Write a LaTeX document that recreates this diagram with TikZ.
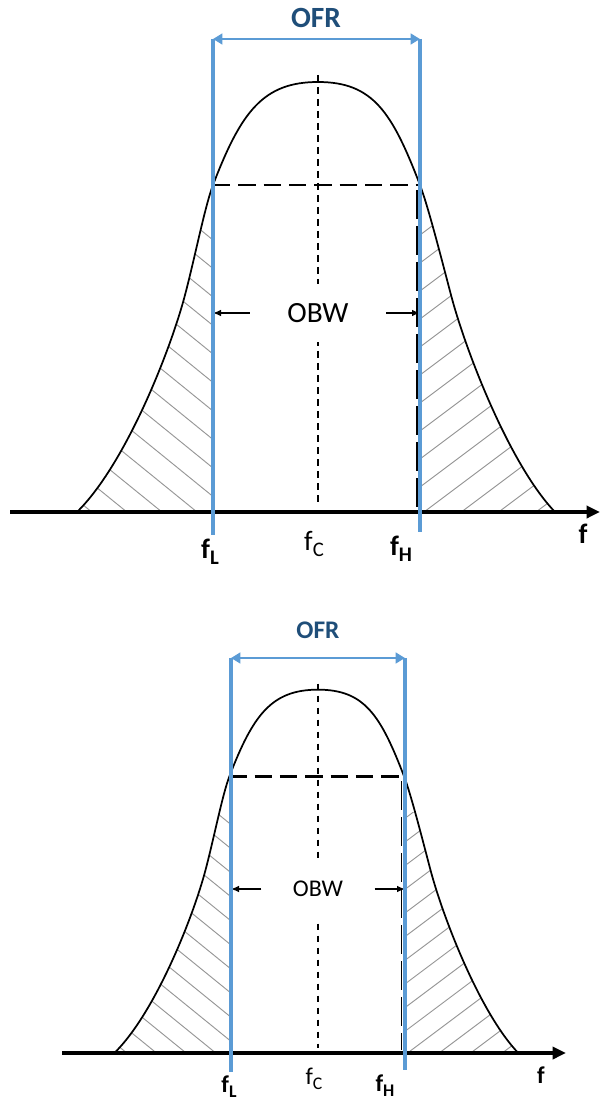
\documentclass[tikz,border=0pt]{standalone}
\usepackage{fontspec}
\setmainfont{Carlito}
\usepackage{graphicx}
\usetikzlibrary{arrows.meta,positioning}
\definecolor{ofrBlue}{RGB}{91,155,213}
\definecolor{ofrText}{RGB}{31,78,121}
\definecolor{hatchGray}{RGB}{150,150,150}

\newcommand{\lowidx}[1]{\raisebox{-0.45ex}{\scalebox{0.74}{#1}}}

% spectrum shape, relative to the centre of the axis
\newcommand{\leftwing}{(-241,0) .. controls (-193,-47) and (-148,-160) .. (-133,-217) .. controls (-123,-255) and (-113,-306) .. (-105,-327)}
\newcommand{\bellcap}{.. controls (-77,-400) and (-55,-430) .. (0,-430) .. controls (55,-430) and (74,-400) .. (102,-327)}
\newcommand{\rightwing}{.. controls (110,-306) and (123,-255) .. (133,-217) .. controls (148,-160) and (192,-47) .. (237,0)}

\newcommand{\drawspectrum}{%
  \begin{scope}
    \clip (-300,-285) rectangle (300,0);
    \begin{scope}
      \clip \leftwing -- (-105,0) -- cycle;
      \foreach \k in {0,...,14}
        \draw[hatch] (-105,{-272+28.5*\k}) -- ++(-320,-260);
    \end{scope}
    \begin{scope}
      \clip (102,-327) \rightwing -- (102,0) -- cycle;
      \foreach \k in {0,...,14}
        \draw[hatch] (102,{-277+28*\k}) -- ++(320,-240);
    \end{scope}
  \end{scope}
  \draw[centreline] (0,-437) -- (0,-6);
  \draw[shoulder] (-105,-327) -- (102,-327);
  \draw[edgeline] (99,-322) -- (99,-4);
  \draw[bell] \leftwing \bellcap \rightwing;
}

\begin{document}
\begin{tikzpicture}[x=0.75pt,y=-0.75pt,
  bell/.style={line width=1.3pt},
  hatch/.style={hatchGray,line width=0.7pt},
  shoulder/.style={line width=2pt,dash pattern=on 13pt off 6pt},
  centreline/.style={line width=0.9pt,dash pattern=on 5pt off 4pt},
  edgeline/.style={line width=1pt,dash pattern=on 22pt off 5pt},
  ofrline/.style={ofrBlue,line width=2.8pt},
  ofrarrow/.style={ofrBlue,line width=2pt,{Triangle[length=7pt,width=8pt]}-{Triangle[length=7pt,width=8pt]}},
  axisline/.style={line width=3.5pt,-{Triangle[length=10pt,width=9pt]}},
  obwarrow/.style={line width=0.9pt,-{Latex[length=6pt,width=5pt]}},
  ofrtext/.style={text=ofrText,font=\bfseries\fontsize{#1}{#1}\selectfont},
  obwtext/.style={font=\fontsize{#1}{#1}\selectfont,fill=white,minimum height=44pt},
  flabel/.style={font=\fontsize{#1}{#1}\selectfont,inner sep=0pt},
]
\useasboundingbox (0,0) rectangle (602,1119);

% upper spectrum
\begin{scope}[shift={(318,512)}]
  \drawspectrum
\end{scope}
\coordinate (topL) at (213,39);
\coordinate (topR) at (420,39);
\draw[axisline] (10,512) -- (600,512);
\node[ofrtext=22] (ofrTop) at (316,18) {OFR};
\node[obwtext=22,inner xsep=28pt] (obwTop) at (318,313) {OBW};
\draw[obwarrow] (obwTop.west) -- (obwTop.west -| topL);
\draw[obwarrow] (obwTop.east) -- (obwTop.east -| topR);
\draw[ofrline] (topL) -- (213,535);
\draw[ofrline] (topR) -- (420,532);
\draw[ofrarrow] (topL) -- (topR);
\node[flabel=21] (fLtop) at (210,552) {\bfseries f\lowidx{L}};
\node[flabel=21] (fCtop) at (314,544) {f\lowidx{C}};
\node[flabel=21] (fHtop) at (401,549) {\bfseries f\lowidx{H}};
\node[flabel=21] (fTop) at (583,534) {\bfseries f};

% lower spectrum
\begin{scope}[shift={(318,1053)},scale=0.845]
  \drawspectrum
\end{scope}
\coordinate (botL) at (231,658);
\coordinate (botR) at (405,658);
\draw[axisline] (62,1053) -- (566,1053);
\node[ofrtext=19] (ofrBot) at (318,630) {OFR};
\node[obwtext=18,inner xsep=23.5pt] (obwBot) at (318,889) {OBW};
\draw[obwarrow] (obwBot.west) -- (obwBot.west -| botL);
\draw[obwarrow] (obwBot.east) -- (obwBot.east -| botR);
\draw[ofrline] (botL) -- (231,1072);
\draw[ofrline] (botR) -- (405,1070);
\draw[ofrarrow] (botL) -- (botR);
\node[flabel=18] (fLbot) at (229,1087) {\bfseries f\lowidx{L}};
\node[flabel=18] (fCbot) at (314,1079) {f\lowidx{C}};
\node[flabel=18] (fHbot) at (385,1086) {\bfseries f\lowidx{H}};
\node[flabel=18] (fBot) at (541,1075) {\bfseries f};
\end{tikzpicture}
\end{document}
